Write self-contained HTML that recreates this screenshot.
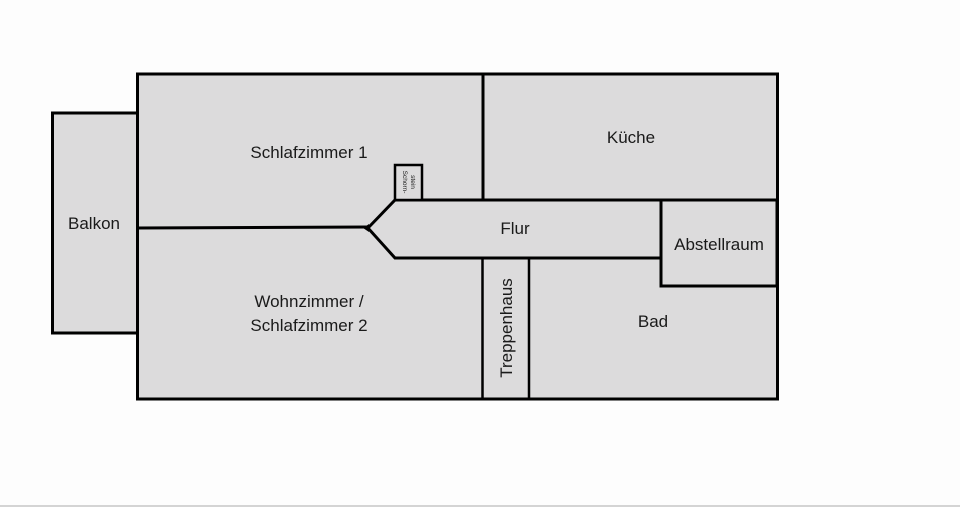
<!DOCTYPE html>
<html><head><meta charset="utf-8"><style>
html,body{margin:0;padding:0;background:#fdfdfd;}
svg{display:block;}
text{font-family:"Liberation Sans",sans-serif;fill:#1a1a1a;}
</style></head><body>
<svg width="960" height="507" viewBox="0 0 960 507" xmlns="http://www.w3.org/2000/svg">
<rect x="0" y="0" width="960" height="507" fill="#fdfdfd"/>
<line x1="0" y1="506" x2="960" y2="506" stroke="#d4d4d4" stroke-width="2"/>
<g fill="#dcdbdc" stroke="#000" stroke-width="3">
<rect x="52.5" y="113" width="85" height="220"/>
<rect x="137.5" y="74" width="640" height="325"/>
</g>
<g stroke="#000" stroke-width="3" fill="none" stroke-linejoin="miter">
<line x1="483" y1="74" x2="483" y2="200"/>
<polyline points="777,200 395,200 368,228 395,258 662,258"/>
<line x1="137" y1="228" x2="368" y2="227"/>
<rect x="661" y="200" width="116" height="86" fill="#dcdbdc"/>
<line x1="482.5" y1="258" x2="482.5" y2="399" stroke-width="2.5"/>
<line x1="529" y1="258" x2="529" y2="399" stroke-width="2.5"/>
<rect x="395" y="165" width="27" height="35" fill="#dcdbdc" stroke-width="2.5"/>
</g>
<polygon points="363,228 369,224 369,232" fill="#000"/>
<g font-size="17" text-anchor="middle">
<text x="94" y="229">Balkon</text>
<text x="309" y="158">Schlafzimmer 1</text>
<text x="631" y="143">Küche</text>
<text x="515" y="234">Flur</text>
<text x="719" y="250">Abstellraum</text>
<text x="653" y="327">Bad</text>
<text x="309" y="307">Wohnzimmer /</text>
<text x="309" y="331">Schlafzimmer 2</text>
<text transform="translate(512,328) rotate(-90)">Treppenhaus</text>
</g>
<g font-size="6.5" text-anchor="middle">
<text transform="translate(403,182) rotate(90)">Schorn-</text>
<text transform="translate(411,182) rotate(90)">stein</text>
</g>
</svg>
</body></html>
